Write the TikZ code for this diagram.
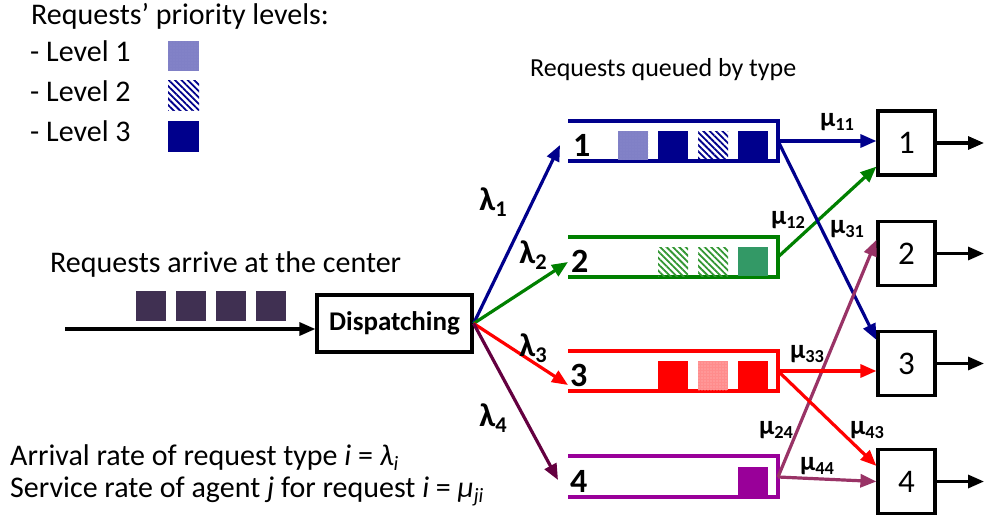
\documentclass[tikz,border=0pt]{standalone}
\usepackage{fontspec}
\setmainfont{Carlito}
\usetikzlibrary{arrows.meta,patterns,patterns.meta,calc}
\definecolor{navyb}{RGB}{0,0,140}
\definecolor{qgreen}{RGB}{0,128,0}
\definecolor{hgreen}{RGB}{50,150,50}
\definecolor{sgreen}{RGB}{51,153,102}
\definecolor{qred}{RGB}{255,0,0}
\definecolor{qpurple}{RGB}{153,0,153}
\definecolor{maroonc}{RGB}{100,0,64}
\definecolor{plumc}{RGB}{153,51,102}
\definecolor{arrc}{RGB}{64,48,82}
\newcommand\lowidx[1]{\raisebox{-0.35ex}{\scalebox{0.68}{#1}}}
\tikzset{
  txt/.style={font=\fontsize{30}{35}\selectfont, inner sep=0pt, anchor=base west},
  qline/.style={line width=3.2pt},
  conn/.style={line width=3.2pt, -{Triangle[length=16pt,width=13pt]}},
  srv/.style={draw, line width=3.2pt, minimum width=57pt, minimum height=64pt, inner sep=0pt, font=\fontsize{33}{38}\selectfont},
  lab/.style={font=\bfseries\fontsize{33}{38}\selectfont, inner sep=0pt},
  mlab/.style={font=\bfseries\fontsize{27}{30}\selectfont, inner sep=0pt},
  qnum/.style={font=\bfseries\fontsize{34}{38}\selectfont, inner sep=0pt, anchor=base west},
  hatch/.style={pattern={Lines[angle=-45,distance=4.5pt,line width=1.8pt]}},
  dotsp/.style={pattern={Dots[distance=3pt,radius=0.7pt]}}
}
\begin{document}
\begin{tikzpicture}[x=1pt,y=-1pt]
\useasboundingbox[fill=white] (0,0) rectangle (984,516);

% legend
\node[txt] (lt) at (31,25) {Requests’ priority levels:};
\node[txt] (l1) at (30,62) {- Level 1};
\node[txt] (l2) at (30,102) {- Level 2};
\node[txt] (l3) at (30,141) {- Level 3};
\fill[navyb!50] (168,41) rectangle (199,71);
\fill[dotsp, pattern color=white!55!navyb] (168,41) rectangle (199,71);
\fill[hatch, pattern color=navyb] (168,81) rectangle (199,111);
\fill[navyb] (168,121) rectangle (199,152);

\node[txt, font=\fontsize{26}{30}\selectfont] (qt) at (530,77) {Requests queued by type};

% arrivals
\node[txt] (arr) at (50,272) {Requests arrive at the center};
\foreach \x in {136,176,216,256} \fill[arrc] (\x,291) rectangle (\x+30,321);
\node[draw, line width=3.2pt, minimum width=155pt, minimum height=57pt, inner sep=0pt,
      font=\bfseries\fontsize{27}{30}\selectfont] (D) at (394.5,323.5) {Dispatching};
\coordinate (src) at (65,329);
\draw[line width=3.2pt, -{Triangle[length=16pt,width=13pt]}] (src) -- (src -| D.west);

% queues
\draw[qline,navyb] (568,121) -- (778,121) -- (778,161) -- (568,161);
\draw[qline,qgreen] (568,237) -- (778,237) -- (778,277) -- (568,277);
\draw[qline,qred] (568,351) -- (778,351) -- (778,391) -- (568,391);
\draw[qline,qpurple] (568,456) -- (778,456) -- (778,497) -- (568,497);
\coordinate (q1) at (778,141);
\coordinate (q2) at (778,257);
\coordinate (q3) at (778,371);
\coordinate (q4) at (778,477);

% queue 1 items
\fill[navyb!50] (618,131) rectangle (648,160);
\fill[dotsp, pattern color=white!55!navyb] (618,131) rectangle (648,160);
\fill[navyb] (658,131) rectangle (688,160);
\fill[hatch, pattern color=navyb] (698,131) rectangle (728,160);
\fill[navyb] (738,131) rectangle (768,160);
% queue 2 items
\fill[hatch, pattern color=hgreen] (658,247) rectangle (688,276);
\fill[hatch, pattern color=hgreen] (698,247) rectangle (728,276);
\fill[sgreen] (738,247) rectangle (768,276);
% queue 3 items
\fill[qred] (658,361) rectangle (688,390);
\fill[qred!45] (698,361) rectangle (728,390);
\fill[dotsp, pattern color=qred!25] (698,361) rectangle (728,390);
\fill[qred] (738,361) rectangle (768,390);
% queue 4 items
\fill[qpurple] (738,467) rectangle (768,496);

\node[qnum] (n1) at (573,156) {1};
\node[qnum] (n2) at (571,272) {2};
\node[qnum] (n3) at (570,386) {3};
\node[qnum] (n4) at (570,492) {4};

% dispatch connectors
\coordinate (in1) at (560,145);
\coordinate (in2) at (568,262);
\coordinate (in3) at (568,385);
\coordinate (in4) at (558,480);
\draw[conn,navyb] (D.east) -- (in1);
\draw[conn,qgreen] (D.east) -- (in2);
\draw[conn,qred] (D.east) -- (in3);
\draw[conn,maroonc] (D.east) -- (in4);
\node[lab] (lam1) at (493,202) {λ\lowidx{1}};
\node[lab] (lam2) at (533,255) {λ\lowidx{2}};
\node[lab] (lam3) at (533,348) {λ\lowidx{3}};
\node[lab] (lam4) at (493,418) {λ\lowidx{4}};

% servers
\node[srv] (s1) at (906.5,143) {1};
\node[srv] (s2) at (906.5,253.5) {2};
\node[srv] (s3) at (906.5,363.5) {3};
\node[srv] (s4) at (906.5,481.5) {4};
\foreach \i/\y in {1/143,2/253.5,3/363.5,4/481.5}{
  \coordinate (o\i) at (984,\y);
  \draw[line width=3.2pt, -{Triangle[length=16pt,width=13pt]}] (s\i.east) -- (o\i);
}

% service connectors
\draw[conn,navyb] (q1) -- (q1 -| s1.west);
\draw[conn,qgreen] (q2) -- ($(s1.south west)+(0,-10)$);
\draw[conn,navyb] (q1) -- ($(s3.north west)+(0,10)$);
\draw[conn,plumc] (q4) -- ($(s2.north west)+(0,20)$);
\draw[conn,qred] (q3) -- (q3 -| s3.west);
\draw[conn,qred] (q3) -- ($(s4.north west)+(0,18)$);
\draw[conn,plumc] (q4) -- (s4.west);

\node[mlab] (m11) at (837,122) {μ\lowidx{11}};
\node[mlab] (m12) at (788,220) {μ\lowidx{12}};
\node[mlab] (m31) at (847,229) {μ\lowidx{31}};
\node[mlab] (m33) at (807,354) {μ\lowidx{33}};
\node[mlab] (m24) at (776,430) {μ\lowidx{24}};
\node[mlab] (m43) at (867,430) {μ\lowidx{43}};
\node[mlab] (m44) at (817,466) {μ\lowidx{44}};

% bottom text
\node[txt] (b1) at (10,465) {Arrival rate of request type \textit{i} = \textit{λ}\lowidx{\textit{i}}};
\node[txt] (b2) at (10,497) {Service rate of agent \textit{j} for request \textit{i} = \textit{μ}\lowidx{\textit{ji}}};
\end{tikzpicture}
\end{document}
